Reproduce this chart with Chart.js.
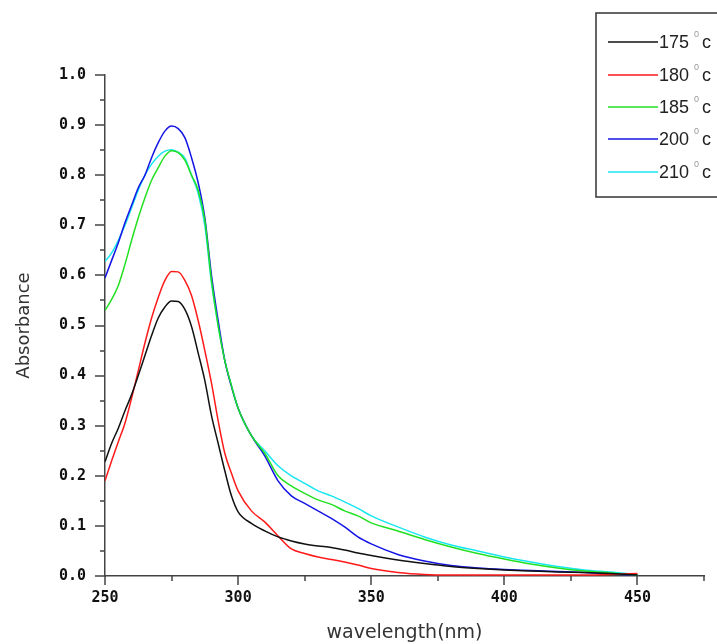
<!DOCTYPE html>
<html>
<head>
<meta charset="utf-8">
<script src="https://cdn.jsdelivr.net/npm/chart.js@4/dist/chart.umd.min.js"></script>
<style>
  html, body { margin: 0; padding: 0; background: #fff; overflow: hidden; }
  canvas { display: block; }
</style>
</head>
<body>
<canvas id="chart" width="717" height="644"></canvas>
<script>
const wavelengths = [250, 252.5, 255, 257.5, 260, 262.5, 265, 267.5, 270, 272.5, 275, 277.5, 280, 282.5, 285, 287.5, 290, 292.5, 295, 297.5, 300, 305, 310, 315, 320, 325, 330, 335, 340, 345, 350, 360, 370, 380, 390, 400, 410, 420, 430, 440, 450]

const temps = ['175', '180', '185', '200', '210']

const abs175 = [0.228, 0.265, 0.295, 0.33, 0.362, 0.40, 0.44, 0.48, 0.515, 0.537, 0.549, 0.548, 0.532, 0.498, 0.445, 0.39, 0.32, 0.265, 0.21, 0.16, 0.128, 0.105, 0.09, 0.078, 0.07, 0.064, 0.06, 0.057, 0.052, 0.046, 0.041, 0.032, 0.025, 0.019, 0.015, 0.012, 0.01, 0.008, 0.007, 0.005, 0.002]
const abs180 = [0.19, 0.23, 0.268, 0.305, 0.355, 0.41, 0.465, 0.515, 0.556, 0.59, 0.608, 0.607, 0.59, 0.56, 0.51, 0.45, 0.385, 0.31, 0.245, 0.205, 0.17, 0.13, 0.108, 0.08, 0.054, 0.045, 0.038, 0.033, 0.028, 0.022, 0.015, 0.007, 0.003, 0.002, 0.002, 0.002, 0.002, 0.002, 0.002, 0.003, 0.005]
const abs185 = [0.53, 0.552, 0.58, 0.622, 0.67, 0.715, 0.755, 0.79, 0.815, 0.838, 0.849, 0.845, 0.83, 0.80, 0.77, 0.71, 0.59, 0.50, 0.43, 0.38, 0.335, 0.28, 0.245, 0.20, 0.18, 0.165, 0.152, 0.143, 0.13, 0.12, 0.106, 0.09, 0.073, 0.058, 0.045, 0.034, 0.024, 0.016, 0.01, 0.006, 0.002]
const abs200 = [0.595, 0.63, 0.665, 0.705, 0.74, 0.775, 0.80, 0.835, 0.865, 0.888, 0.898, 0.893, 0.875, 0.835, 0.785, 0.715, 0.60, 0.51, 0.43, 0.378, 0.335, 0.28, 0.24, 0.19, 0.16, 0.145, 0.13, 0.115, 0.098, 0.078, 0.064, 0.043, 0.03, 0.021, 0.016, 0.013, 0.011, 0.009, 0.007, 0.004, 0.002]
const abs210 = [0.628, 0.645, 0.67, 0.70, 0.735, 0.77, 0.80, 0.822, 0.838, 0.848, 0.851, 0.846, 0.834, 0.80, 0.764, 0.70, 0.585, 0.50, 0.43, 0.38, 0.335, 0.28, 0.25, 0.22, 0.20, 0.185, 0.17, 0.16, 0.148, 0.135, 0.12, 0.098, 0.078, 0.062, 0.05, 0.038, 0.028, 0.019, 0.012, 0.008, 0.003]

const seriesValues = [abs175, abs180, abs185, abs200, abs210]
const seriesColors = ['#111111', '#ff1a1a', '#22e022', '#1414e6', '#19e6f0']

const toPoints = (values) => values.map((v, i) => ({ x: wavelengths[i], y: v }))

// minor/major tick marks + the boxed legend in the top right corner
const axisDecor = {
  id: 'axisDecor',
  afterDraw(chart) {
    const ctx = chart.ctx
    const xs = chart.scales.x
    const ys = chart.scales.y
    const area = chart.chartArea
    ctx.save()
    ctx.strokeStyle = '#444'
    ctx.lineWidth = 1.5
    ctx.beginPath()
    for (let v = 250; v <= 475; v += 25) {
      const px = Math.round(xs.getPixelForValue(v))
      const len = v % 50 === 0 ? 9 : 5
      ctx.moveTo(px, area.bottom)
      ctx.lineTo(px, area.bottom + len)
    }
    for (let i = 0; i <= 20; i++) {
      const py = Math.round(ys.getPixelForValue(i * 0.05))
      const len = i % 2 === 0 ? 10 : 5
      ctx.moveTo(area.left, py)
      ctx.lineTo(area.left - len, py)
    }
    ctx.stroke()

    // legend
    ctx.fillStyle = '#fff'
    ctx.fillRect(596, 13, 140, 184)
    ctx.strokeStyle = '#333'
    ctx.lineWidth = 1.5
    ctx.strokeRect(596, 13, 140, 184)
    const rows = [42, 75, 107, 139, 172]
    chart.data.datasets.forEach((ds, i) => {
      const y = rows[i]
      ctx.strokeStyle = ds.borderColor
      ctx.lineWidth = 1.5
      ctx.beginPath()
      ctx.moveTo(608, y)
      ctx.lineTo(658, y)
      ctx.stroke()
      ctx.fillStyle = '#222'
      ctx.textBaseline = 'middle'
      ctx.textAlign = 'left'
      ctx.font = '18px "Liberation Sans", Arial, sans-serif'
      ctx.fillText(temps[i], 659, y + 1)
      ctx.font = '9px "Liberation Sans", Arial, sans-serif'
      ctx.fillStyle = '#999'
      ctx.fillText('0', 694, y - 7)
      ctx.fillStyle = '#222'
      ctx.font = '18px "Liberation Sans", Arial, sans-serif'
      ctx.fillText('c', 702, y + 1)
    })
    ctx.restore()
  }
}

const tickFont = { family: '"DejaVu Sans Mono", monospace', size: 15, weight: 'bold' }

new Chart(document.getElementById('chart').getContext('2d'), {
  type: 'line',
  data: {
    datasets: seriesValues.map((vals, i) => ({
      label: temps[i] + '°c',
      data: toPoints(vals),
      borderColor: seriesColors[i],
      borderWidth: 1.5,
      pointRadius: 0,
      fill: false,
      cubicInterpolationMode: 'monotone'
    }))
  },
  options: {
    responsive: false,
    animation: false,
    devicePixelRatio: 1,
    layout: { padding: { top: 75, right: 0, bottom: 0, left: 0 } },
    plugins: {
      legend: { display: false },
      tooltip: { enabled: false }
    },
    scales: {
      x: {
        type: 'linear',
        min: 250,
        max: 475,
        afterFit: (s) => { s.height = 68 },
        grid: { display: false, drawTicks: false },
        border: { display: true, color: '#444', width: 1.5 },
        ticks: {
          stepSize: 25,
          autoSkip: false,
          maxRotation: 0,
          padding: 13,
          color: '#111',
          font: tickFont,
          callback: (v) => (v % 50 === 0 && v < 475 ? String(v) : '')
        },
        title: {
          display: true,
          text: 'wavelength(nm)',
          color: '#333',
          font: { family: '"DejaVu Sans", sans-serif', size: 19 },
          padding: { top: 0, bottom: 0 }
        }
      },
      y: {
        min: 0,
        max: 1.0,
        afterFit: (s) => { s.width = 105 },
        grid: { display: false, drawTicks: false },
        border: { display: true, color: '#444', width: 1.5 },
        ticks: {
          stepSize: 0.1,
          padding: 19,
          color: '#111',
          font: tickFont,
          callback: (v) => v.toFixed(1)
        },
        title: {
          display: true,
          text: 'Absorbance',
          color: '#333',
          font: { family: '"DejaVu Sans", sans-serif', size: 18 },
          padding: { top: 14, bottom: 0 }
        }
      }
    }
  },
  plugins: [axisDecor]
})
</script>
</body>
</html>
